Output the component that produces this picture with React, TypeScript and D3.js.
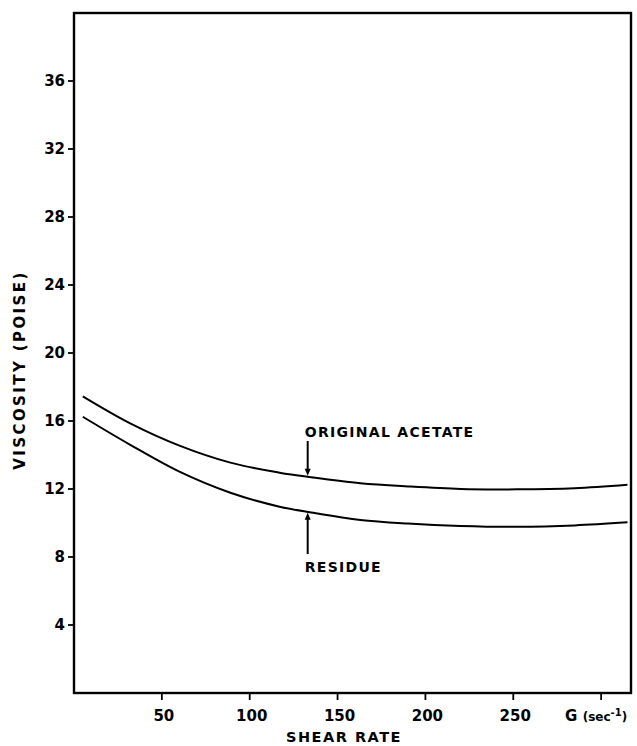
import React from "react";
import * as d3 from "d3";

// Shear rate G (sec^-1) sampled along each curve
const shearRate = [5, 32, 60, 89, 117, 135, 163, 190, 220, 252, 285, 315];
// Viscosity (poise) of the original acetate
const originalAcetate = [17.45, 15.86, 14.55, 13.55, 12.96, 12.69, 12.34, 12.15, 12.0, 11.98, 12.05, 12.25];
// Viscosity (poise) of the residue
const residue = [16.25, 14.6, 13.02, 11.78, 10.96, 10.62, 10.18, 9.97, 9.83, 9.78, 9.86, 10.04];

const yTicks = [4, 8, 12, 16, 20, 24, 28, 32, 36];
const xTicks = [50, 100, 150, 200, 250, 300];
const xTickLabels = ["50", "100", "150", "200", "250", ""];

const W = 637;
const H = 746;

export default function App() {
  const x = d3.scaleLinear().domain([0, 317]).range([74, 631]);
  const y = d3.scaleLinear().domain([0, 40]).range([693, 13]);

  const line = d3
    .line<number>()
    .x((_, i) => x(shearRate[i]))
    .y((d) => y(d))
    .curve(d3.curveCatmullRom.alpha(0.5));

  const font = "'DejaVu Sans', 'Liberation Sans', sans-serif";
  const arrowG = 133;

  const upperAt = y(12.72);
  const lowerAt = y(10.66);
  const ax = x(arrowG);

  return (
    <svg
      width={W}
      height={H}
      style={{ position: "absolute", left: 0, top: 0, background: "#fff" }}
      fontFamily={font}
    >
      {/* plot frame */}
      <rect
        x={x(0)}
        y={y(40)}
        width={x(317) - x(0)}
        height={y(0) - y(40)}
        fill="none"
        stroke="#000"
        strokeWidth={2.4}
      />

      {/* y axis ticks and labels */}
      {yTicks.map((t) => (
        <g key={"y" + t}>
          <line x1={x(0) - 6} x2={x(0)} y1={y(t)} y2={y(t)} stroke="#000" strokeWidth={1.8} />
          <text
            x={x(0) - 9}
            y={y(t)}
            textAnchor="end"
            dominantBaseline="central"
            fontSize={15}
            fontWeight="bold"
          >
            {t}
          </text>
        </g>
      ))}

      {/* x axis ticks and labels */}
      {xTicks.map((t, i) => (
        <g key={"x" + t}>
          <line x1={x(t)} x2={x(t)} y1={y(0)} y2={y(0) + 7} stroke="#000" strokeWidth={1.8} />
          <text
            x={x(t) + 2}
            y={y(0) + 28}
            textAnchor="middle"
            fontSize={15}
            fontWeight="bold"
          >
            {xTickLabels[i]}
          </text>
        </g>
      ))}
      <text x={x(300) - 5} y={y(0) + 28} textAnchor="middle" fontSize={15} fontWeight="bold">
        G{" "}
        <tspan fontSize={12}>(sec</tspan>
        <tspan fontSize={10} dy={-5}>-1</tspan>
        <tspan fontSize={12} dy={5}>)</tspan>
      </text>

      {/* axis titles */}
      <text
        x={344}
        y={742}
        textAnchor="middle"
        fontSize={14.5}
        fontWeight="bold"
        letterSpacing={1.5}
      >
        SHEAR RATE
      </text>
      <text
        transform={`translate(25, 370) rotate(-90)`}
        textAnchor="middle"
        fontSize={15}
        fontWeight="bold"
        letterSpacing={2.4}
      >
        VISCOSITY  (POISE)
      </text>

      {/* curves */}
      <path d={line(originalAcetate) || ""} fill="none" stroke="#000" strokeWidth={2} />
      <path d={line(residue) || ""} fill="none" stroke="#000" strokeWidth={2} />

      {/* ORIGINAL ACETATE annotation */}
      <text x={ax - 3} y={437} fontSize={14} fontWeight="bold" letterSpacing={1.3}>
        ORIGINAL  ACETATE
      </text>
      <line x1={ax} x2={ax} y1={441} y2={upperAt - 6} stroke="#000" strokeWidth={2} />
      <path
        d={`M${ax - 3},${upperAt - 8} L${ax + 3},${upperAt - 8} L${ax},${upperAt - 1} Z`}
        fill="#000"
      />

      {/* RESIDUE annotation */}
      <text x={ax - 3} y={572} fontSize={14} fontWeight="bold" letterSpacing={1.3}>
        RESIDUE
      </text>
      <line x1={ax} x2={ax} y1={554} y2={lowerAt + 6} stroke="#000" strokeWidth={2} />
      <path
        d={`M${ax - 3},${lowerAt + 8} L${ax + 3},${lowerAt + 8} L${ax},${lowerAt + 1} Z`}
        fill="#000"
      />
    </svg>
  );
}
